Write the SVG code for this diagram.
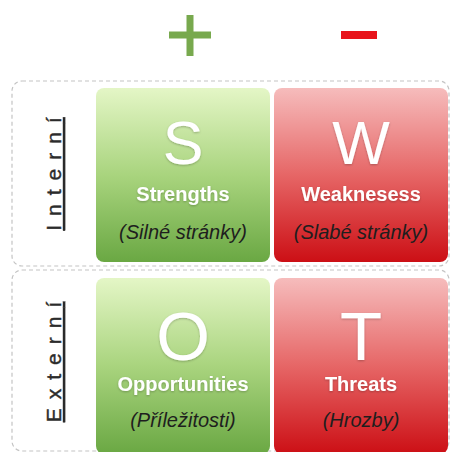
<svg xmlns="http://www.w3.org/2000/svg" width="450" height="452" viewBox="0 0 450 452">
<defs>
<linearGradient id="gGreen" x1="0" y1="0" x2="0" y2="1">
<stop offset="0" stop-color="#e4f6c6"/>
<stop offset="0.5" stop-color="#a9d47e"/>
<stop offset="1" stop-color="#6aa843"/>
</linearGradient>
<linearGradient id="gRed" x1="0" y1="0" x2="0" y2="1">
<stop offset="0" stop-color="#f6bcbc"/>
<stop offset="0.5" stop-color="#e66666"/>
<stop offset="1" stop-color="#cc0f15"/>
</linearGradient>
<filter id="sh" x="-20%" y="-20%" width="140%" height="140%">
<feDropShadow dx="0" dy="1" stdDeviation="1" flood-color="#000" flood-opacity="0.25"/>
</filter>
</defs>
<style>
.zone{fill:none;stroke:#c4c4c4;stroke-width:1.2;stroke-dasharray:4 3}
.big{font-family:"Liberation Sans",Arial,sans-serif;fill:#ffffff;text-anchor:middle;filter:url(#sh)}
.lbl{font-family:"Liberation Sans",Arial,sans-serif;font-weight:bold;font-size:20px;fill:#ffffff;text-anchor:middle;filter:url(#sh)}
.sub{font-family:"Liberation Sans",Arial,sans-serif;font-style:italic;font-size:20px;fill:#1e1e1e;text-anchor:middle}
.side{font-family:"Liberation Sans",Arial,sans-serif;font-size:21px;fill:#2b2b2b;stroke:#2b2b2b;stroke-width:0.4;text-anchor:middle;letter-spacing:9px;text-decoration:underline}
</style>
<g id="signs">
<path d="M169 35H211M190 15V56" stroke="#78a94e" stroke-width="7" fill="none"/>
<path d="M341 35H377" stroke="#e8141b" stroke-width="8" fill="none"/>
</g>
<g id="zones">
<rect class="zone" x="12" y="81" width="437" height="185" rx="10"/>
<rect class="zone" x="12" y="270" width="437" height="181" rx="10"/>
</g>
<g id="interni">
<text class="side" transform="translate(61,174) rotate(-90)">Intern<tspan letter-spacing="0">í</tspan></text>
</g>
<g id="externi">
<text class="side" transform="translate(61,362) rotate(-90)">Extern<tspan letter-spacing="0">í</tspan></text>
</g>
<g id="S">
<rect x="96" y="88" width="174" height="174" rx="8" fill="url(#gGreen)"/>
<text class="big" x="183" y="164" font-size="61">S</text>
<text class="lbl" x="183" y="201">Strengths</text>
<text class="sub" x="183" y="239">(Silné stránky)</text>
</g>
<g id="W">
<rect x="274" y="88" width="174" height="174" rx="8" fill="url(#gRed)"/>
<text class="big" x="361" y="164" font-size="61">W</text>
<text class="lbl" x="361" y="201">Weaknesess</text>
<text class="sub" x="361" y="239">(Slabé stránky)</text>
</g>
<g id="O">
<rect x="96" y="278" width="174" height="176" rx="8" fill="url(#gGreen)"/>
<text class="big" x="183" y="360" font-size="69">O</text>
<text class="lbl" x="183" y="391">Opportunities</text>
<text class="sub" x="183" y="427">(Příležitosti)</text>
</g>
<g id="T">
<rect x="274" y="278" width="174" height="176" rx="8" fill="url(#gRed)"/>
<text class="big" x="361" y="360" font-size="69">T</text>
<text class="lbl" x="361" y="391">Threats</text>
<text class="sub" x="361" y="427">(Hrozby)</text>
</g>
<g id="connectors"/>
</svg>
